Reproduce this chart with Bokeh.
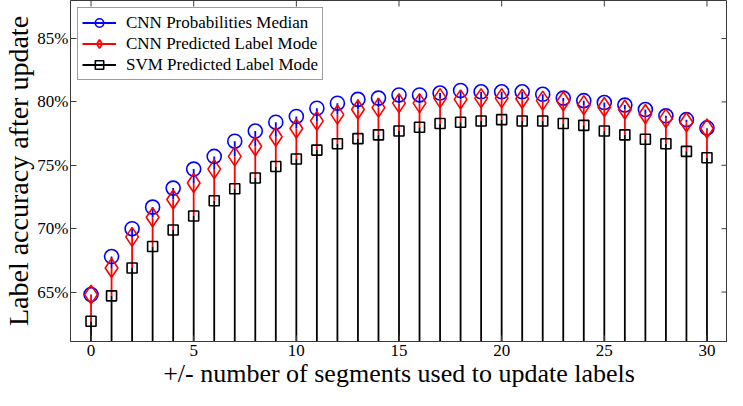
import math
from bokeh.plotting import figure
from bokeh.models import (FixedTicker, PrintfTickFormatter, Range1d,
                          Legend, LegendItem, ColumnDataSource)
from bokeh.embed import file_html
from bokeh.resources import INLINE

# ---- data ----
segments = list(range(0, 31))
cnn_prob_median = [64.8, 67.8, 70.0, 71.7, 73.2, 74.7, 75.7, 76.9, 77.7, 78.4,
                   78.85, 79.5, 79.9, 80.2, 80.3, 80.55, 80.55, 80.7, 80.9, 80.8,
                   80.8, 80.8, 80.6, 80.3, 80.1, 79.95, 79.75, 79.4, 78.9, 78.6, 77.95]
cnn_label_mode = [64.8, 66.9, 69.35, 70.9, 72.3, 73.6, 74.7, 75.7, 76.5, 77.25,
                  77.9, 78.5, 79.0, 79.4, 79.55, 79.9, 79.9, 80.3, 80.2, 80.3,
                  80.3, 80.25, 80.1, 80.05, 79.75, 79.6, 79.4, 79.05, 78.7, 78.4, 77.9]
svm_label_mode = [62.7, 64.7, 66.9, 68.6, 69.9, 71.0, 72.2, 73.15, 74.0, 74.9,
                  75.5, 76.2, 76.7, 77.1, 77.4, 77.7, 78.0, 78.3, 78.4, 78.5,
                  78.6, 78.5, 78.5, 78.3, 78.15, 77.7, 77.4, 77.05, 76.7, 76.1, 75.6]
x_ticks = [0, 5, 10, 15, 20, 25, 30]
y_ticks = [65, 70, 75, 80, 85]
stem_baseline = 0

X_START, X_END = -1, 31
Y_START, Y_END = 61.1, 88.0

FONT = "Liberation Serif"
AX = "#3a3a3a"

p = figure(width=727, height=390, output_backend="svg", toolbar_location=None,
           x_range=Range1d(X_START, X_END), y_range=Range1d(Y_START, Y_END),
           min_border_left=0, min_border_right=0, min_border_top=0, min_border_bottom=0)
p.xgrid.visible = False
p.ygrid.visible = False
p.outline_line_color = AX
p.outline_line_width = 1
p.background_fill_color = "white"

src = ColumnDataSource(dict(x=segments, b=[stem_baseline] * len(segments),
                            m=cnn_prob_median, c=cnn_label_mode, s=svm_label_mode))

# stems: visible parts (lower series hide the rest)
r1s = p.segment(x0="x", y0="c", x1="x", y1="m", source=src, line_color="#0000ff", line_width=1.8)
r1m = p.scatter(x="x", y="m", source=src, marker="circle", size=14, fill_color=None,
                line_color="#0000ff", line_width=1.6)
r2s = p.segment(x0="x", y0="s", x1="x", y1="c", source=src, line_color="#ff0000", line_width=1.8)
r2m = p.scatter(x="x", y="c", source=src, marker="diamond", size=19, fill_color=None,
                line_color="#ff0000", line_width=1.6)
r3s = p.segment(x0="x", y0="b", x1="x", y1="s", source=src, line_color="#000000", line_width=1.8)
r3m = p.scatter(x="x", y="s", source=src, marker="square", size=10, fill_color=None,
                line_color="#000000", line_width=1.6)

# inward mirror ticks on top and right edges
p.scatter(x=x_ticks, y=[Y_END] * len(x_ticks), marker="dash", size=12, angle=math.pi / 2,
          line_color=AX, line_width=1)
p.scatter(x=[X_END] * len(y_ticks), y=y_ticks, marker="dash", size=12,
          line_color=AX, line_width=1)

def style_axis(ax):
    ax.axis_line_color = AX
    ax.major_tick_line_color = AX
    ax.major_tick_in = 6
    ax.major_tick_out = 0
    ax.minor_tick_line_color = None
    ax.major_label_text_font = FONT
    ax.major_label_text_color = "black"
    ax.major_label_text_font_size = "17px"
    ax.major_label_text_line_height = 1.0
    ax.axis_label_text_font = FONT
    ax.axis_label_text_font_style = "normal"
    ax.axis_label_text_color = "black"
    ax.axis_label_text_line_height = 1.0

xa = p.xaxis[0]
xa.ticker = FixedTicker(ticks=x_ticks)
style_axis(xa)
xa.major_label_standoff = 3
xa.axis_label = "+/- number of segments used to update labels"
xa.axis_label_text_font_size = "26px"
xa.axis_label_standoff = 0

ya = p.yaxis[0]
ya.ticker = FixedTicker(ticks=y_ticks)
ya.formatter = PrintfTickFormatter(format="%d%%")
style_axis(ya)
ya.major_label_standoff = 2
ya.axis_label = "Label accuracy after update"
ya.axis_label_text_font_size = "28px"
ya.axis_label_standoff = 0

legend = Legend(items=[
    LegendItem(label="CNN Probabilities Median", renderers=[r1s, r1m]),
    LegendItem(label="CNN Predicted Label Mode", renderers=[r2s, r2m]),
    LegendItem(label="SVM Predicted Label Mode", renderers=[r3s, r3m]),
], location="top_left")
legend.label_text_font = FONT
legend.label_text_font_size = "17px"
legend.label_text_color = "black"
legend.border_line_color = AX
legend.border_line_width = 1.2
legend.background_fill_alpha = 1
legend.glyph_width = 34
legend.glyph_height = 21
legend.label_height = 21
legend.spacing = 0
legend.padding = 4
legend.margin = 7
legend.label_standoff = 10
p.add_layout(legend)

open("out.html", "w").write(file_html(p, INLINE))
